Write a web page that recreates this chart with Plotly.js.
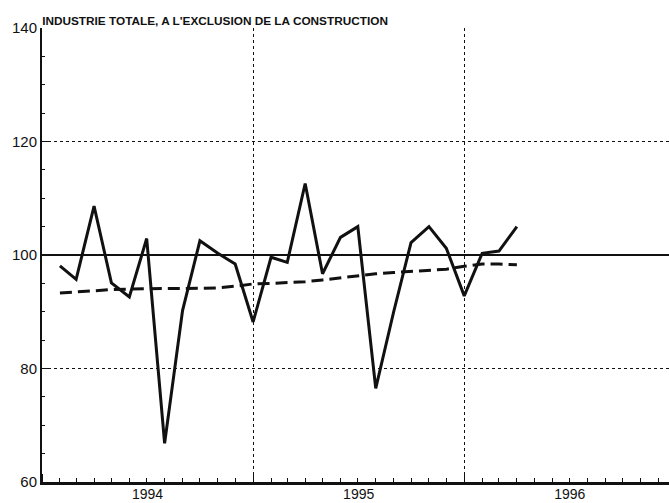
<!DOCTYPE html>
<html>
<head>
<meta charset="utf-8">
<script src="https://cdn.plot.ly/plotly-3.0.1.min.js"></script>
<style>
html,body{margin:0;padding:0;background:#fff;}
#chart{width:669px;height:503px;}
</style>
</head>
<body>
<div id="chart"></div>
<script>
var chartTitle = "INDUSTRIE TOTALE, A L'EXCLUSION DE LA CONSTRUCTION";
var months = ["1994-02-01","1994-03-01","1994-04-01","1994-05-01","1994-06-01","1994-07-01",
  "1994-08-01","1994-09-01","1994-10-01","1994-11-01","1994-12-01","1995-01-01",
  "1995-02-01","1995-03-01","1995-04-01","1995-05-01","1995-06-01","1995-07-01",
  "1995-08-01","1995-09-01","1995-10-01","1995-11-01","1995-12-01","1996-01-01",
  "1996-02-01","1996-03-01","1996-04-01"];
var actual = [98.1,95.7,108.6,95.1,92.6,102.9,
  66.8,90.2,102.5,100.3,98.4,88.2,
  99.6,98.7,112.6,96.7,103.1,105.0,
  76.5,90.0,102.2,105.0,101.2,92.8,
  100.3,100.7,105.0];
var trend = [93.3,93.5,93.7,93.9,94.0,94.1,
  94.1,94.1,94.1,94.2,94.5,94.9,
  95.0,95.1,95.3,95.6,96.0,96.4,
  96.7,96.9,97.1,97.3,97.5,98.0,
  98.4,98.4,98.3];
var yTicks = [60,80,100,120,140];
var yearLabels = ["1994","1995","1996"];

var tickFont = {family: "Liberation Sans, Arial, sans-serif", size: 14, color: "#111"};

var traces = [
  {x: months, y: trend, type: "scatter", mode: "lines",
   line: {color: "#111", width: 3, dash: "12px,6px"}, hoverinfo: "skip"},
  {x: months, y: actual, type: "scatter", mode: "lines",
   line: {color: "#111", width: 3}, hoverinfo: "skip"}
];

var layout = {
  width: 669, height: 503,
  margin: {l: 42, r: 0, t: 28, b: 21, pad: 0},
  paper_bgcolor: "#fff", plot_bgcolor: "#fff",
  showlegend: false,
  font: tickFont,
  title: {
    text: chartTitle, x: 0.063, xref: "container", xanchor: "left",
    y: 1, yref: "paper", yanchor: "bottom", pad: {b: 3, l: 0, t: 0, r: 0},
    font: {family: "Liberation Sans, Arial, sans-serif", size: 11.8, color: "#111", weight: "bold"}
  },
  xaxis: {
    type: "date",
    range: ["1994-01-01", "1996-12-20"],
    tick0: "1994-01-01", dtick: "M12",
    ticklabelmode: "period",
    tickformat: "%Y",
    ticks: "inside", ticklen: 8, tickwidth: 1, tickcolor: "#111",
    showgrid: true, gridcolor: "#111", gridwidth: 1, griddash: "dot",
    minor: {dtick: "M1", tick0: "1994-01-01", ticks: "inside", ticklen: 4, tickwidth: 1, tickcolor: "#111", showgrid: false},
    showline: true, linecolor: "#111", linewidth: 3,
    zeroline: false, fixedrange: true,
    ticklabelstandoff: -3,
    tickfont: tickFont
  },
  yaxis: {
    range: [60, 140],
    tickvals: yTicks,
    ticktext: yTicks.map(String),
    ticks: "inside", ticklen: 8, tickwidth: 1, tickcolor: "#111",
    showgrid: true, gridcolor: "#111", gridwidth: 1, griddash: "dot",
    minor: {dtick: 5, tick0: 60, ticks: "inside", ticklen: 3, tickwidth: 1, tickcolor: "#111", showgrid: false},
    showline: true, linecolor: "#111", linewidth: 2,
    zeroline: false, fixedrange: true,
    ticklabelstandoff: 0,
    tickfont: {family: "Liberation Sans, Arial, sans-serif", size: 15, color: "#111"}
  },
  shapes: [
    {type: "line", xref: "paper", x0: 0, x1: 1, yref: "y", y0: 100, y1: 100,
     line: {color: "#111", width: 2}}
  ]
};

Plotly.newPlot("chart", traces, layout, {displayModeBar: false, staticPlot: true});
</script>
</body>
</html>
